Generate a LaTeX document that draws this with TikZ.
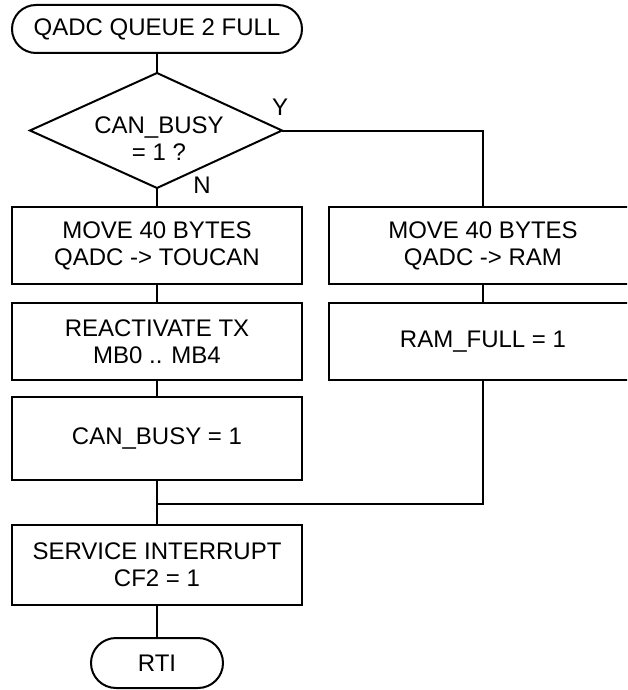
\documentclass[tikz,border=0pt]{standalone}
\usepackage{fontspec}
\setmainfont{Liberation Sans}
\begin{document}
\begin{tikzpicture}[x=1pt,y=-1pt,
  every node/.style={font=\fontsize{24}{27}\selectfont, inner sep=0pt, align=center},
  line/.style={line width=2pt},
  term/.style={draw, line width=2pt, rounded corners=#1},
  procbox/.style={draw, line width=2pt, minimum width=290pt},
  rbox/.style={draw, line width=2pt, minimum width=308pt},
  lbl/.style={font=\fontsize{24}{27}\selectfont}]
\useasboundingbox (0,0) rectangle (627,690);
\clip (0,0) rectangle (627,690);
% start terminal
\node[term=24pt, minimum width=290pt, minimum height=48pt] (start) at (157,29) {QADC QUEUE 2 FULL};
% decision
\coordinate (dtop) at (157,73);
\coordinate (dright) at (282,130.5);
\coordinate (dbot) at (157,188);
\coordinate (dleft) at (30,130.5);
\draw[line, line join=miter] (dtop) -- (dright) -- (dbot) -- (dleft) -- cycle;
\node (dec) at (159,138.5) {CAN\_BUSY\\= 1 ?};
\node[lbl] (ylab) at (280,107) {Y};
\node[lbl] (nlab) at (202,185) {N};
% left column
\node[procbox, minimum height=77pt] (b1) at (157,245.5) {MOVE 40 BYTES\\QADC -> TOUCAN};
\node[procbox, minimum height=77pt] (b2) at (157,341.5) {REACTIVATE TX\\MB0 .. MB4};
\node[procbox, minimum height=83pt] (b3) at (157,438.5) {CAN\_BUSY = 1};
\node[procbox, minimum height=80pt] (b4) at (157,565) {SERVICE INTERRUPT\\CF2 = 1};
\node[term=25pt, minimum width=132pt, minimum height=50pt] (rti) at (157,663) {RTI};
% right column
\node[rbox, minimum height=77pt] (r1) at (483,245.5) {MOVE 40 BYTES\\QADC -> RAM};
\node[rbox, minimum height=77pt] (r2) at (483,341.5) {RAM\_FULL = 1};
\coordinate (ycorner) at (483,130.5);
\coordinate (mr) at (483,504);
\coordinate (ml) at (157,504);
% connectors
\draw[line] (start.south) -- (dtop);
\draw[line] (dbot) -- (b1.north);
\draw[line] (dright) -- (ycorner) -- (r1.north);
\draw[line] (b1.south) -- (b2.north);
\draw[line] (b2.south) -- (b3.north);
\draw[line] (b3.south) -- (b4.north);
\draw[line] (r1.south) -- (r2.north);
\draw[line] (r2.south) -- (mr) -- (ml);
\draw[line] (b4.south) -- (rti.north);
\end{tikzpicture}
\end{document}
